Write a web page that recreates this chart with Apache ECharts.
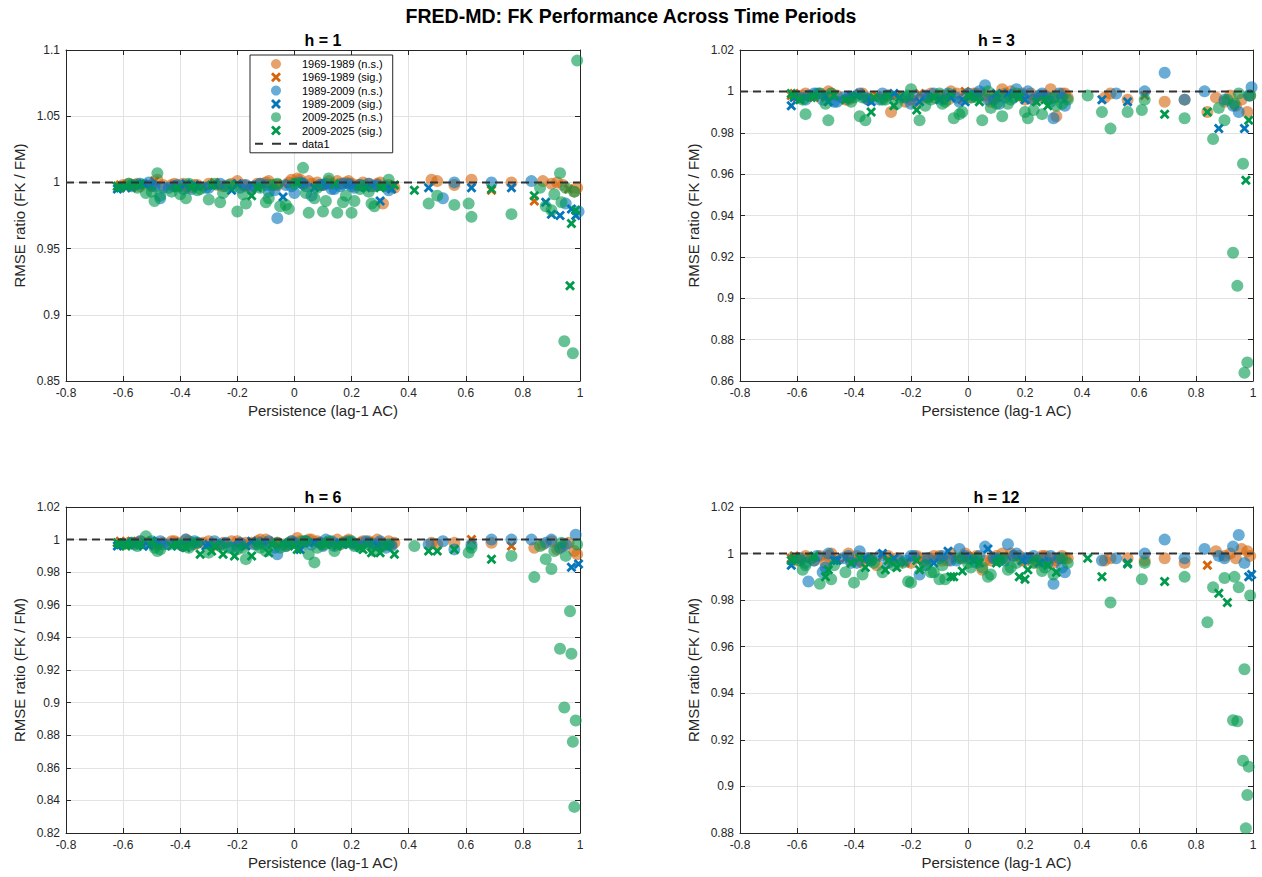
<!DOCTYPE html>
<html>
<head>
<meta charset="utf-8">
<title>FRED-MD: FK Performance Across Time Periods</title>
<script src="https://cdn.jsdelivr.net/npm/echarts@6/dist/echarts.min.js"></script>
<style>
  html, body { margin: 0; padding: 0; background: #ffffff; }
  #chart { width: 1262px; height: 877px; }
</style>
</head>
<body>
<div id="chart"></div>
<script>
// ---- persistence (lag-1 autocorrelation) of each variable, per sample period ----
const persist6989 = [
  -0.62,-0.6,-0.57,-0.55,-0.52,-0.5,-0.48,-0.43,-0.41,-0.39,
  -0.37,-0.35,-0.32,-0.3,-0.27,-0.25,-0.2,-0.18,-0.15,-0.13,
  -0.1,-0.07,-0.04,-0.01,0.01,0.03,0.05,0.08,0.1,0.13,
  0.15,0.18,0.2,0.22,0.24,0.27,0.29,0.31,0.33,0.35,
  0.48,0.5,0.56,0.62,0.69,0.76,0.84,0.87,0.9,0.92,
  0.94,0.96,0.98,0.99,
  -0.61,-0.58,-0.54,-0.49,-0.46,-0.42,-0.38,-0.34,-0.28,-0.22,
  -0.17,-0.12,-0.09,-0.06,-0.02,0.02,0.06,0.09,0.12,0.16,
  0.19,0.23,0.26,0.3,0.34];
const persist8909 = [
  -0.62,-0.59,-0.56,-0.54,-0.51,-0.49,-0.47,-0.44,-0.41,-0.38,
  -0.36,-0.34,-0.31,-0.28,-0.26,-0.22,-0.19,-0.17,-0.14,-0.12,
  -0.09,-0.06,-0.03,0.0,0.02,0.04,0.06,0.09,0.11,0.14,
  0.16,0.19,0.21,0.23,0.26,0.28,0.3,0.32,0.34,0.47,
  0.52,0.56,0.62,0.69,0.76,0.83,0.88,0.9,0.93,0.95,
  0.97,0.985,0.995,
  -0.61,-0.57,-0.53,-0.5,-0.46,-0.42,-0.39,-0.35,-0.3,-0.24,
  -0.2,-0.15,-0.1,-0.07,-0.04,-0.01,0.03,0.07,0.1,0.13,
  0.17,0.2,0.25,0.29,0.33];
const persist0925 = [
  -0.61,-0.59,-0.57,-0.54,-0.52,-0.49,-0.48,-0.43,-0.4,-0.38,
  -0.36,-0.33,-0.3,-0.28,-0.25,-0.23,-0.2,-0.17,-0.15,-0.12,
  -0.1,-0.08,-0.05,-0.02,0.0,0.03,0.05,0.07,0.1,0.12,
  0.15,0.17,0.2,0.21,0.24,0.26,0.28,0.3,0.33,0.35,
  0.42,0.47,0.5,0.56,0.61,0.62,0.69,0.76,0.84,0.86,
  0.88,0.9,0.91,0.93,0.935,0.945,0.95,0.965,0.97,0.975,
  0.98,0.985,0.99,
  -0.62,-0.58,-0.55,-0.5,-0.47,-0.41,-0.37,-0.34,-0.29,-0.26,
  -0.21,-0.18,-0.13,-0.09,-0.06,-0.03,0.01,0.04,0.08,0.11,
  0.14,0.18,0.23,0.27,0.31];

// ---- RMSE ratio FK / FM, horizon h = 1 ----
const h1_6989 = [
  0.997,0.998,0.996,0.999,0.998,0.997,1.002,0.998,0.997,0.999,
  0.996,0.998,0.997,0.999,0.998,0.997,1.001,0.998,0.996,0.999,
  1.000,0.998,0.999,1.002,1.003,0.999,1.001,1.000,0.998,0.999,
  1.001,1.000,0.999,0.998,1.000,0.997,0.999,0.984,0.998,0.996,
  1.002,1.001,0.998,1.002,0.994,1.000,0.986,1.001,0.999,1.000,
  0.998,0.995,0.993,0.996,
  0.998,0.999,0.997,1.001,0.998,0.999,0.997,0.998,1.000,0.999,
  0.997,0.999,1.001,0.998,1.000,1.002,0.999,0.998,1.001,0.999,
  1.001,0.998,0.999,1.000,0.997];
const h1_8909 = [
  0.995,0.996,0.998,0.999,1.000,0.997,0.988,0.996,0.998,0.999,
  0.995,0.997,0.996,0.998,0.999,0.994,0.996,0.998,0.997,0.999,
  0.993,0.973,0.998,0.992,1.000,0.997,0.990,0.998,0.999,0.995,
  0.997,0.999,0.996,0.998,0.999,0.997,0.986,0.997,0.995,0.996,
  0.988,1.000,0.996,1.000,0.996,1.001,0.985,0.976,0.975,0.984,
  0.980,0.975,0.978,
  0.996,0.997,0.999,0.998,0.996,0.997,0.995,0.998,0.996,0.997,
  0.999,0.996,0.998,0.994,0.989,0.997,0.999,0.996,0.998,0.995,
  0.999,0.997,0.996,0.998,0.994];
const h1_0925 = [
  0.996,0.997,0.998,0.999,0.992,0.986,1.007,0.993,0.991,0.988,
  0.996,0.995,0.987,0.999,0.992,0.998,0.978,0.984,0.990,0.996,
  0.985,0.998,0.982,0.980,0.999,1.011,0.977,0.988,0.978,1.003,
  0.977,0.985,0.977,0.986,0.997,0.993,0.982,0.996,1.002,0.998,
  0.994,0.984,0.990,0.983,0.984,0.974,0.995,0.976,0.990,0.996,
  0.982,0.979,0.991,1.007,0.985,0.880,0.996,0.922,0.969,0.871,
  0.993,0.979,1.092,
  0.997,0.999,0.996,0.993,0.990,0.996,0.999,0.994,0.998,0.985,
  0.997,0.991,0.996,0.988,0.999,0.983,1.000,0.992,0.996,0.986,
  0.999,0.990,0.995,0.984,0.997];

// ---- RMSE ratio FK / FM, horizon h = 3 ----
const h3_6989 = [
  0.998,0.997,0.999,0.998,0.999,0.997,0.999,0.996,0.997,0.998,
  0.999,0.996,0.998,0.997,0.990,0.998,0.996,0.995,0.997,0.999,
  0.998,0.996,0.999,1.000,0.997,0.999,0.998,0.995,0.997,0.999,
  1.000,0.998,0.996,0.999,0.997,0.998,1.001,0.988,0.999,0.997,
  0.997,0.999,0.996,0.998,0.995,0.996,0.990,0.997,0.995,0.998,
  0.993,0.996,0.990,0.998,
  0.999,0.998,0.997,1.000,0.998,0.996,0.999,0.997,0.998,0.995,
  0.999,0.997,0.998,1.000,0.996,0.999,0.998,0.997,1.001,0.998,
  0.999,0.996,0.998,0.997,0.999];
const h3_8909 = [
  0.993,0.997,0.998,0.999,0.996,0.995,0.995,0.997,0.998,0.999,
  0.997,0.995,0.996,0.998,0.999,0.997,0.998,0.995,0.997,0.999,
  0.996,0.997,0.995,0.999,0.998,1.000,1.003,0.996,0.994,0.999,
  0.997,0.998,1.000,0.996,0.999,0.997,0.987,0.999,0.993,0.996,
  0.999,0.995,1.000,1.009,0.996,1.000,0.982,0.996,0.993,0.990,
  0.982,0.998,1.002,
  0.997,0.996,0.999,0.998,0.995,0.997,0.998,0.996,0.999,0.997,
  0.994,0.998,0.996,0.999,0.997,0.995,0.998,0.996,0.999,0.997,
  1.001,0.996,0.998,0.995,0.997];
const h3_0925 = [
  0.998,0.996,0.989,0.998,0.999,0.986,0.999,0.996,0.997,0.988,
  0.986,0.997,0.996,0.998,0.994,0.997,1.001,0.986,0.993,0.997,
  0.999,0.995,0.987,0.990,0.998,0.997,0.986,1.000,0.994,0.988,
  0.996,0.999,0.990,0.987,0.995,0.989,0.993,0.997,0.994,0.996,
  0.998,0.990,0.982,0.990,0.991,0.996,0.989,0.987,0.990,0.977,
  0.992,0.986,0.996,0.922,0.994,0.906,0.999,0.965,0.864,0.957,
  0.869,0.986,0.998,
  0.999,0.996,0.997,0.994,0.998,0.995,0.997,0.990,0.996,0.993,
  0.998,0.991,0.996,0.994,0.999,0.989,0.997,0.995,0.992,0.998,
  0.994,0.997,0.991,0.996,0.993];

// ---- RMSE ratio FK / FM, horizon h = 6 ----
const h6_6989 = [
  0.998,0.997,0.999,0.998,0.998,0.999,0.997,0.999,0.998,0.996,
  0.999,0.997,0.998,0.999,0.996,0.998,0.999,0.997,0.998,0.999,
  1.000,0.998,0.997,0.999,1.001,0.998,1.000,0.999,0.997,0.998,
  1.000,0.999,0.998,0.997,0.999,0.998,1.000,0.997,0.999,0.998,
  0.998,0.997,0.998,1.000,0.998,0.996,0.995,0.997,0.999,0.994,
  0.996,0.998,0.993,0.991,
  0.999,0.998,0.999,0.997,0.998,0.999,1.000,0.998,0.997,0.999,
  0.998,1.000,0.999,0.998,0.997,0.999,1.000,0.998,0.999,0.997,
  1.000,0.998,0.999,0.998,0.997];
const h6_8909 = [
  0.996,0.998,0.997,0.999,0.996,0.998,0.999,0.997,0.996,1.000,
  0.997,0.998,0.996,0.999,0.997,0.995,0.998,0.996,0.997,0.998,
  0.999,0.991,0.996,0.998,0.994,0.999,0.997,0.998,1.000,0.996,
  0.998,0.999,0.997,0.996,0.998,0.997,0.999,0.995,0.996,0.997,
  0.999,0.994,0.997,1.000,1.000,1.000,0.998,1.000,0.995,0.997,
  0.983,1.003,0.985,
  0.997,0.998,0.996,0.999,0.997,0.998,0.996,0.999,0.997,0.998,
  0.996,0.999,0.997,0.995,0.998,0.999,0.997,0.998,0.996,0.999,
  0.997,0.998,0.999,0.996,0.997];
const h6_0925 = [
  0.997,0.996,0.998,0.997,1.002,0.995,0.993,0.996,0.997,0.995,
  0.998,0.991,0.992,0.996,0.991,0.995,0.994,0.988,0.990,0.995,
  0.993,0.997,0.995,0.998,0.996,0.999,0.991,0.986,0.997,0.999,
  0.996,0.998,0.999,0.996,0.994,0.997,0.993,0.992,0.997,0.991,
  0.996,0.993,0.993,0.994,0.992,0.995,0.988,0.990,0.977,0.996,
  0.988,0.982,0.993,0.933,0.998,0.897,0.990,0.956,0.930,0.876,
  0.836,0.889,0.997,
  0.998,0.997,0.996,0.999,0.994,0.997,0.995,0.998,0.993,0.996,
  0.990,0.995,0.997,0.992,0.998,0.996,0.994,0.999,0.995,0.997,
  0.993,0.998,0.995,0.992,0.996];

// ---- RMSE ratio FK / FM, horizon h = 12 ----
const h12_6989 = [
  0.998,0.997,0.999,0.998,0.999,0.996,1.000,0.998,0.997,0.999,
  0.996,0.998,0.995,0.999,0.997,0.998,0.996,0.999,0.997,0.998,
  0.999,0.997,0.998,1.000,0.998,0.999,0.993,0.997,0.999,0.998,
  1.000,0.999,0.997,0.998,0.996,0.999,0.998,0.997,0.999,0.998,
  0.997,0.998,0.998,0.997,0.998,0.996,0.995,1.001,0.999,1.000,
  0.998,1.002,1.001,0.999,
  0.999,0.998,0.997,0.999,0.998,1.000,0.997,0.998,0.999,0.996,
  0.998,0.999,0.997,1.000,0.998,0.999,0.997,0.998,1.000,0.999,
  0.997,0.998,0.999,0.996,0.998];
const h12_8909 = [
  0.995,0.998,0.988,0.997,0.992,1.000,0.997,0.998,0.996,1.001,
  0.998,0.997,0.999,0.996,0.998,0.997,0.999,0.991,0.998,0.996,
  0.999,0.997,1.002,0.998,0.997,0.999,1.003,0.998,0.997,1.004,
  0.999,0.997,0.998,0.999,0.997,0.996,0.987,0.998,0.992,0.997,
  0.998,0.996,1.000,1.006,0.998,1.002,0.999,0.998,1.003,1.008,
  0.996,0.990,0.991,
  0.998,0.996,0.999,0.994,0.997,0.999,0.996,0.998,1.000,0.997,
  0.999,0.995,0.998,1.001,0.997,0.999,0.996,1.002,0.998,0.997,
  1.000,0.998,0.996,0.999,0.994];
const h12_0925 = [
  0.998,0.997,0.995,0.999,0.987,0.993,0.989,0.992,0.9875,0.998,
  0.994,0.996,0.992,0.997,0.994,0.996,0.9875,0.993,0.995,0.992,
  0.989,0.989,0.990,0.9925,0.996,0.998,0.994,0.990,0.996,0.998,
  0.994,0.996,0.989,0.993,0.997,0.9925,0.995,0.991,0.998,0.996,
  0.998,0.990,0.979,0.9955,0.989,0.996,0.988,0.990,0.9705,0.9855,
  0.983,0.9895,0.979,0.9284,0.990,0.928,0.9855,0.911,0.9503,0.882,
  0.8963,0.9085,0.982,
  0.997,0.993,0.998,0.990,0.995,0.996,0.991,0.997,0.993,0.995,
  0.988,0.997,0.992,0.995,0.990,0.998,0.994,0.996,0.991,0.997,
  0.993,0.990,0.996,0.994,0.992];

// ---- indices of variables whose difference is significant ----
const sigH1_6989 = [0,2,4,12,22,44,46,51,54,57,62];
const sigH1_8909 = [0,1,9,11,13,15,36,38,39,42,44,46,47,48,50,51,53,55,60,63,67,70,75];
const sigH1_0925 = [0,1,3,10,18,37,39,40,46,48,57,58,61,63,68,71,75,79,83,87];
const sigH3_6989 = [0,1,3,5,9,12,15,23,28,43,54,56,60,64,68,73];
const sigH3_8909 = [0,5,8,11,14,17,21,29,39,41,46,50,53,56,59,62,65,68,71,74];
const sigH3_0925 = [0,1,3,7,11,13,19,24,34,36,46,48,59,61,63,65,67,70,72,74,77,80,84,86];
const sigH6_6989 = [0,2,5,14,21,43,45,54,57,61,66,72];
const sigH6_8909 = [0,1,4,8,12,17,24,30,50,52,53,55,58,61,64,67,70,73,76];
const sigH6_0925 = [0,1,3,7,9,11,13,14,18,21,24,30,34,37,39,41,42,43,46,63,64,66,68,71,73,76,79,82,85,86];
const sigH12_6989 = [0,3,7,13,22,46,54,58,63,69,75];
const sigH12_8909 = [0,6,10,14,19,24,31,41,51,52,53,57,61,66,70,75];
const sigH12_0925 = [0,3,5,9,10,13,14,17,22,23,28,32,33,36,40,41,43,46,50,52,63,66,68,71,74,77,80,84,87];

// ---- labels ----
const periods = ['1969-1989', '1989-2009', '2009-2025'];
const horizonTitles = ['h = 1', 'h = 3', 'h = 6', 'h = 12'];
const mainTitle = 'FRED-MD: FK Performance Across Time Periods';
const xLabel = 'Persistence (lag-1 AC)';
const yLabel = 'RMSE ratio (FK / FM)';
const refLineName = 'data1';

// ---- y-axis ranges for each horizon: [min, max, step] ----
const yRangeH1 = [0.85, 1.1, 0.05];
const yRangeH3 = [0.86, 1.02, 0.02];
const yRangeH6 = [0.82, 1.02, 0.02];
const yRangeH12 = [0.88, 1.02, 0.02];
const xRange = [-0.8, 1, 0.2];

// ---------------------------------------------------------------
const FONT = '"Liberation Sans", Arial, Helvetica, sans-serif';
const AXIS_COLOR = '#262626';
const GRID_COLOR = '#e2e2e2';
const REF_COLOR = '#333333';
const periodColors = ['#D5640B', '#0576BA', '#009A4D'];
const CROSS = 'path://M0,2L2,0L5,3L8,0L10,2L7,5L10,8L8,10L5,7L2,10L0,8L3,5Z';
// legend swatch for the dashed reference line: three dashes in a 42x10 box
const DASH_ICON = 'path://M0,0L0.01,0L0,0.01Z M0,10L0.01,10L0,9.99Z ' +
  'M0,4L8,4L8,6L0,6Z M17,4L26,4L26,6L17,6Z M34,4L42,4L42,6L34,6Z';

const persistence = [persist6989, persist8909, persist0925];
const panels = [
  { ratios: [h1_6989, h1_8909, h1_0925],   sig: [sigH1_6989, sigH1_8909, sigH1_0925],   y: yRangeH1 },
  { ratios: [h3_6989, h3_8909, h3_0925],   sig: [sigH3_6989, sigH3_8909, sigH3_0925],   y: yRangeH3 },
  { ratios: [h6_6989, h6_8909, h6_0925],   sig: [sigH6_6989, sigH6_8909, sigH6_0925],   y: yRangeH6 },
  { ratios: [h12_6989, h12_8909, h12_0925], sig: [sigH12_6989, sigH12_8909, sigH12_0925], y: yRangeH12 }
];
// plot boxes (pixels) of the 2x2 subplot layout
const boxes = [
  { left: 66,  top: 50,  width: 514, height: 331 },
  { left: 740, top: 50,  width: 513, height: 331 },
  { left: 66,  top: 507, width: 514, height: 326 },
  { left: 740, top: 507, width: 513, height: 326 }
];

function splitBySignificance(xs, ys, sigIdx) {
  const ns = [], sg = [];
  xs.forEach((x, i) => (sigIdx.includes(i) ? sg : ns).push([x, ys[i]]));
  return { ns, sg };
}

const grid = [], xAxis = [], yAxis = [], series = [], graphic = [];

panels.forEach((p, k) => {
  const b = boxes[k];
  grid.push({ left: b.left, top: b.top, width: b.width, height: b.height, containLabel: false });

  const tickCommon = { show: true, inside: true, length: 5, lineStyle: { color: AXIS_COLOR, width: 1 } };
  const lineCommon = { show: true, onZero: false, lineStyle: { color: AXIS_COLOR, width: 1 } };

  // bottom x axis (labelled) and top mirror
  xAxis.push({
    gridIndex: k, type: 'value', position: 'bottom',
    min: xRange[0], max: xRange[1], interval: xRange[2],
    axisLine: lineCommon, axisTick: tickCommon,
    axisLabel: { color: AXIS_COLOR, fontSize: 12, fontFamily: FONT, margin: 6 },
    splitLine: { show: true, lineStyle: { color: GRID_COLOR, width: 1 } },
    name: xLabel, nameLocation: 'middle', nameGap: 22,
    nameTextStyle: { color: AXIS_COLOR, fontSize: 15, fontFamily: FONT }
  });
  xAxis.push({
    gridIndex: k, type: 'value', position: 'top',
    min: xRange[0], max: xRange[1], interval: xRange[2],
    axisLine: lineCommon, axisTick: tickCommon,
    axisLabel: { show: false }, splitLine: { show: false }
  });
  // left y axis (labelled) and right mirror
  yAxis.push({
    gridIndex: k, type: 'value', position: 'left',
    min: p.y[0], max: p.y[1], interval: p.y[2],
    axisLine: lineCommon, axisTick: tickCommon,
    axisLabel: { color: AXIS_COLOR, fontSize: 12, fontFamily: FONT, margin: 6 },
    splitLine: { show: true, lineStyle: { color: GRID_COLOR, width: 1 } },
    name: yLabel, nameLocation: 'middle', nameGap: 39,
    nameTextStyle: { color: AXIS_COLOR, fontSize: 15, fontFamily: FONT }
  });
  yAxis.push({
    gridIndex: k, type: 'value', position: 'right',
    min: p.y[0], max: p.y[1], interval: p.y[2],
    axisLine: lineCommon, axisTick: tickCommon,
    axisLabel: { show: false }, splitLine: { show: false }
  });

  const xi = 2 * k, yi = 2 * k;
  periods.forEach((period, j) => {
    const parts = splitBySignificance(persistence[j], p.ratios[j], p.sig[j]);
    series.push({
      type: 'scatter', name: period + ' (n.s.)',
      xAxisIndex: xi, yAxisIndex: yi,
      symbol: 'circle', symbolSize: 12,
      itemStyle: { color: periodColors[j], opacity: 0.6 },
      data: parts.ns, z: 2 + j
    });
    series.push({
      type: 'scatter', name: period + ' (sig.)',
      xAxisIndex: xi, yAxisIndex: yi,
      symbol: CROSS, symbolSize: 10, symbolKeepAspect: true,
      itemStyle: { color: periodColors[j], opacity: 1 },
      data: parts.sg, z: 2 + j
    });
  });
  // reference line at ratio = 1
  series.push({
    type: 'line', name: refLineName,
    xAxisIndex: xi, yAxisIndex: yi,
    symbol: 'none', silent: true,
    lineStyle: { color: REF_COLOR, width: 2, type: [8, 5] },
    itemStyle: { color: REF_COLOR },
    data: [[xRange[0], 1], [xRange[1], 1]], z: 6
  });

  graphic.push({
    type: 'text',
    x: b.left + b.width / 2, y: b.top - 10,
    style: {
      text: horizonTitles[k], align: 'center', verticalAlign: 'middle',
      font: 'bold 16px ' + FONT, fill: '#000000'
    },
    z: 10
  });
});

const legendData = [];
periods.forEach(p => { legendData.push({ name: p + ' (n.s.)' }, { name: p + ' (sig.)' }); });
legendData.push({ name: refLineName, icon: DASH_ICON, itemStyle: { color: REF_COLOR } });

const chart = echarts.init(document.getElementById('chart'), null, { renderer: 'svg' });
chart.setOption({
  animation: false,
  backgroundColor: '#ffffff',
  title: {
    text: mainTitle, left: 'center', top: 1,
    textStyle: { fontSize: 19.5, fontWeight: 'bold', color: '#000000', fontFamily: FONT }
  },
  legend: {
    data: legendData,
    orient: 'vertical', left: 250, top: 55,
    itemWidth: 42, itemHeight: 10, itemGap: 2.3,
    padding: [3.5, 10, 3.5, 5],
    borderColor: AXIS_COLOR, borderWidth: 1, backgroundColor: '#ffffff',
    textStyle: { fontSize: 11, lineHeight: 11, color: '#000000', fontFamily: FONT },
    selectedMode: false, z: 20
  },
  grid, xAxis, yAxis, series, graphic
});
</script>
</body>
</html>
